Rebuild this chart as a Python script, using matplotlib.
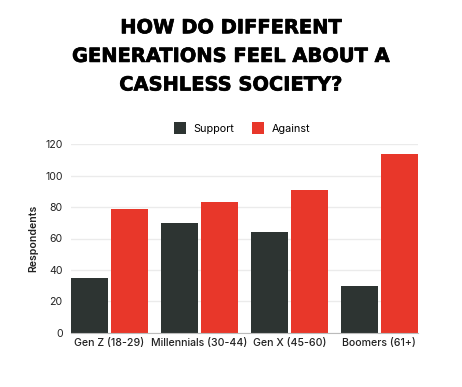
import numpy as np
import matplotlib.pyplot as plt
import matplotlib.patheffects as pe

# data
categories = ['Gen Z (18-29)', 'Millennials (30-44)', 'Gen X (45-60)', 'Boomers (61+)']
support = [35, 70, 64, 30]
against = [79, 83, 91, 114]
yticks = [0, 20, 40, 60, 80, 100, 120]

plt.rcParams['font.family'] = ['Inter', 'DejaVu Sans']

fig = plt.figure(figsize=(4.62, 3.87), dpi=100)
ax = fig.add_axes([71 / 462, (387 - 332.7) / 387, 346.7 / 462, 188.4 / 387])

x = np.arange(len(categories))
w = 0.4116
gap = 0.0334
ax.bar(x - w / 2 - gap / 2, support, w, color='#2d3432', label='Support', zorder=3)
ax.bar(x + w / 2 + gap / 2, against, w, color='#e8372a', label='Against', zorder=3)

half = w + gap / 2
ax.set_xlim(-half, len(categories) - 1 + half)
ax.set_ylim(0, 120)
ax.set_yticks(yticks)
ax.set_xticks(x)
ax.set_xticklabels(categories, fontsize=7.6, color='#222222', fontweight='medium')
ax.tick_params(axis='y', labelsize=7.6, colors='#222222', length=0, pad=6)
ax.tick_params(axis='x', length=0, pad=4)
ax.grid(axis='y', color='#ebebeb', linewidth=1, zorder=0)
for s in ['top', 'right', 'left']:
    ax.spines[s].set_visible(False)
ax.spines['bottom'].set_color('#bbbbbb')
ax.spines['bottom'].set_zorder(4)
ax.set_ylabel('Respondents', fontsize=7.6, fontweight='semibold', color='#222222', labelpad=5)

title_lines = ['HOW DO DIFFERENT', 'GENERATIONS FEEL ABOUT A', 'CASHLESS SOCIETY?']
for i, line in enumerate(title_lines):
    fig.text(0.5, 1 - (33.3 + 28.6 * i) / 387, line, ha='center', va='baseline',
             fontsize=14.0, fontweight='bold', family='DejaVu Sans',
             path_effects=[pe.withStroke(linewidth=0.5, foreground='black')])

leg = fig.legend(loc='center', bbox_to_anchor=(242 / 462, 1 - 128 / 387), ncol=2, frameon=False,
                 fontsize=7.8, handlelength=1.1, handleheight=1.3, columnspacing=1.6, handletextpad=0.7)

fig.savefig('out.png', dpi=100)
